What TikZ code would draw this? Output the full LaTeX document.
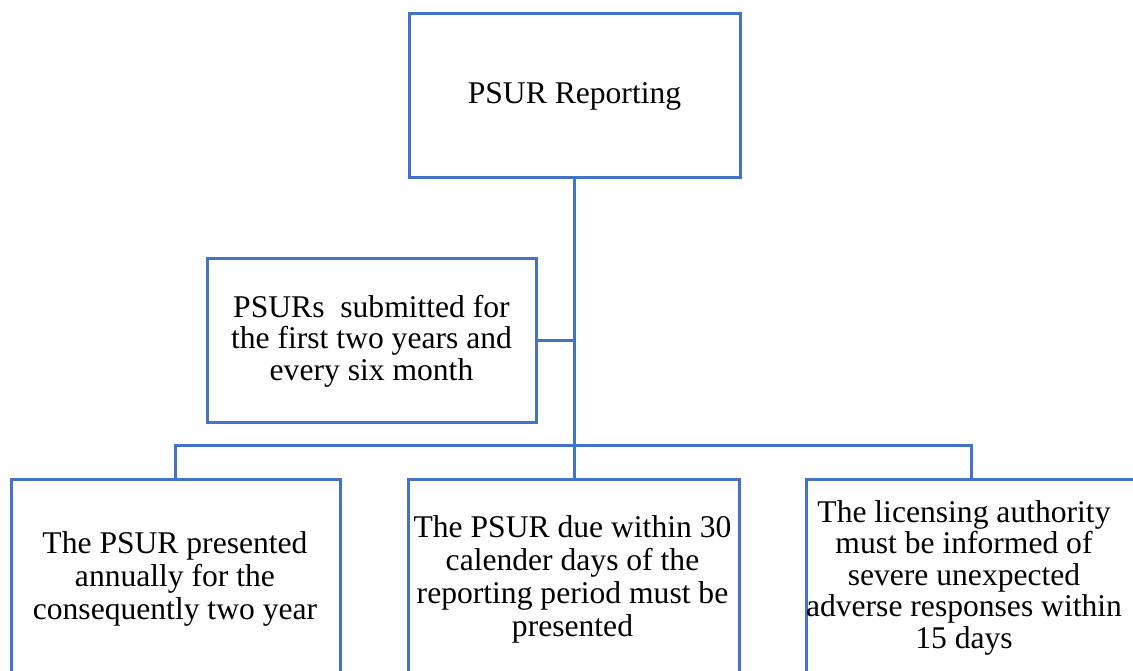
\documentclass[tikz,border=0pt]{standalone}
\usepackage{fontspec}
\setmainfont{Liberation Serif}
\newfontfamily\tnr{Liberation Serif}
\begin{document}
\begin{tikzpicture}[x=1pt,y=1pt,
  box/.style={draw=boxblue, line width=3pt, inner sep=0pt, fill=white},
  link/.style={draw=boxblue, line width=3pt},
  txt/.style={inner sep=0pt, align=center, font=\tnr\fontsize{31.6}{33}\selectfont}]
\definecolor{boxblue}{HTML}{4472C4}
\useasboundingbox (0,0) rectangle (1133,670);
\clip (0,0) rectangle (1133,670);

% top-level box and the intermediate box beside the trunk
\node[box, txt, minimum width=331, minimum height=164] (top) at (574.5,574) {\raisebox{-2pt}{PSUR Reporting}};
\node[box, txt, font=\tnr\fontsize{31.6}{31.7}\selectfont, minimum width=329, minimum height=164] (side) at (371.5,329)
  {PSURs\ \ submitted for\\the first two years and\\every six month};

% bottom row of boxes (they run past the lower edge)
\node[box, minimum width=329, minimum height=230] (bl) at (175.5,75) {};
\node[box, minimum width=331, minimum height=230] (bm) at (573.5,75) {};
\node[box, minimum width=331, minimum height=230] (br) at (971.5,75) {};

% texts of the bottom boxes
\node[txt, anchor=north] (tl) at (175,139) {The PSUR presented\\annually for the\\consequently two year};
\node[txt, anchor=north] (tm) at (572.5,155) {The PSUR due within 30\\calender days of the\\reporting period must be\\presented};
\node[txt, font=\tnr\fontsize{31.6}{31.5}\selectfont, anchor=north] (tr) at (964,170) {The licensing authority\\must be informed of\\severe unexpected\\adverse responses within\\15 days};

% connectors
\coordinate (hub) at (574.5,224.5);
\draw[link] (top.south) -- (hub);
\draw[link] (side.east) -- (side.east -| top.south);
\draw[link] (bl.north) |- (hub) -| (br.north);
\draw[link] (hub) -- (hub |- bm.north);
\end{tikzpicture}
\end{document}
